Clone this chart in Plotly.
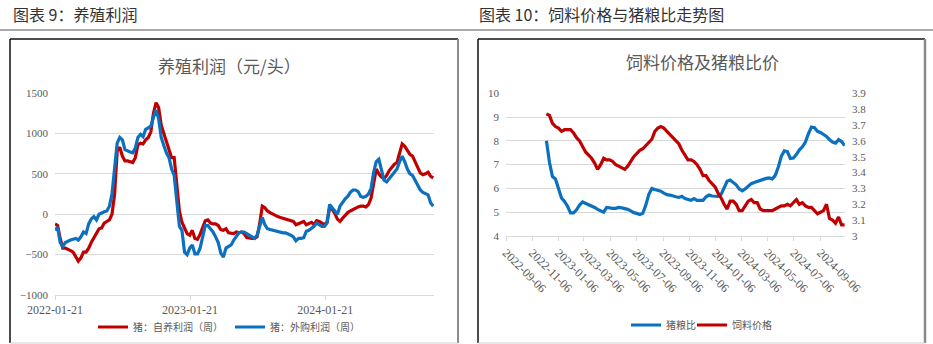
import pandas as pd
import plotly.graph_objects as go

# ---------------- data ----------------
# Left chart: weekly breeding profit (yuan/head)
left_start = "2022-01-21"
left_dates = pd.date_range(left_start, periods=147, freq="7D")
self_bred_profit = [
    -120, -140, -300, -420, -420, -430, -450, -470, -520, -580,
    -540, -470, -470, -420, -350, -290, -230, -180, -170, -110,
    -90, -70, 0, 250, 780, 830, 720, 660, 660, 650,
    640, 700, 860, 880, 870, 920, 950, 1020, 1250, 1380,
    1320, 1100, 1000, 900, 800, 700, 700, 350, 40, -100,
    -170, -240, -260, -200, -300, -310, -250, -170, -80, -70,
    -110, -120, -120, -140, -190, -200, -180, -230, -240, -240,
    -220, -230, -220, -240, -290, -300, -300, -300, -280, -120,
    100, 80, 40, 20, 0, -20, -30, -40, -50, -60,
    -70, -80, -90, -130, -120, -110, -90, -130, -110, -100,
    -130, -80, -90, -110, -130, -100, 80, 60, 10, -60,
    -90, -50, -10, 20, 40, 60, 80, 90, 100, 100,
    90, 120, 200, 380, 560, 500, 460, 440, 480, 540,
    580, 620, 640, 750, 870, 840, 780, 740, 720, 660,
    580, 510, 490, 500, 520, 470, 450,
]
purchased_profit = [
    -200, -160, -350, -400, -350, -330, -320, -310, -300, -320,
    -280, -220, -240, -120, -60, -30, -70, 0, 20, 30,
    40, 100, 250, 600, 880, 950, 920, 800, 780, 770,
    760, 820, 950, 990, 960, 1050, 1070, 1090, 1200, 1290,
    1180, 950, 850, 760, 700, 560, 480, 200, -150, -200,
    -470, -500, -420, -380, -490, -490, -420, -280, -140, -140,
    -180, -220, -280, -350, -480, -530, -420, -400, -380, -320,
    -270, -230, -220, -220, -240, -260, -280, -300, -260, -160,
    -40, -130, -180, -190, -200, -200, -210, -220, -230, -230,
    -240, -260, -280, -330, -300, -300, -290, -210, -200, -180,
    -150, -110, -130, -150, -150, -110, 120, 80, 30, 0,
    100, 150, 190, 220, 270, 300, 300, 280, 220, 210,
    220, 250, 320, 520, 650, 680, 560, 420, 400, 440,
    480, 520, 560, 650, 720, 650, 560, 500, 480, 420,
    350, 300, 270, 260, 240, 140, 100,
]

# Right chart: weekly pig-grain ratio and feed price (yuan/kg)
right_dates = pd.date_range("2022-12-09", periods=100, freq="7D")
pig_grain_ratio = [
    8.0, 7.1, 6.5, 6.4, 6.0, 5.6, 5.45, 5.25, 4.97, 4.97,
    5.1, 5.3, 5.43, 5.38, 5.3, 5.27, 5.2, 5.12, 5.05, 5.0,
    5.2, 5.17, 5.16, 5.16, 5.2, 5.18, 5.16, 5.12, 5.06, 4.98,
    4.95, 4.9, 4.95, 5.3, 5.75, 6.0, 5.95, 5.92, 5.88, 5.8,
    5.74, 5.72, 5.7, 5.65, 5.62, 5.67, 5.57, 5.52, 5.5, 5.57,
    5.5, 5.5, 5.5, 5.65, 5.72, 5.68, 5.68, 5.67, 5.75, 6.0,
    6.3, 6.35, 6.27, 6.15, 5.98, 5.9, 5.98, 6.08, 6.2, 6.25,
    6.3, 6.36, 6.38, 6.42, 6.44, 6.4, 6.55, 6.9, 7.35, 7.58,
    7.55, 7.26, 7.28, 7.42, 7.62, 7.75, 7.95, 8.3, 8.58, 8.55,
    8.4, 8.35, 8.28, 8.18, 8.05, 7.95, 7.9, 8.05, 7.97, 7.8,
]
feed_price = [
    3.77, 3.76, 3.71, 3.69, 3.68, 3.66, 3.67, 3.67, 3.67, 3.65,
    3.62, 3.60, 3.56, 3.53, 3.51, 3.49, 3.46, 3.42, 3.45, 3.49,
    3.48, 3.48, 3.47, 3.45, 3.44, 3.43, 3.42, 3.44, 3.47, 3.50,
    3.52, 3.54, 3.55, 3.57, 3.59, 3.61, 3.66, 3.68, 3.69, 3.68,
    3.66, 3.64, 3.62, 3.60, 3.58, 3.54, 3.51, 3.48, 3.48, 3.47,
    3.45, 3.42, 3.38, 3.38, 3.35, 3.33, 3.31, 3.27, 3.24, 3.20,
    3.17, 3.22, 3.22, 3.20, 3.16, 3.16, 3.19, 3.22, 3.23, 3.21,
    3.21, 3.17, 3.16, 3.16, 3.16, 3.16, 3.17, 3.18, 3.19, 3.19,
    3.20, 3.19, 3.21, 3.23, 3.20, 3.21, 3.19, 3.18, 3.18, 3.16,
    3.14, 3.15, 3.16, 3.20, 3.11, 3.10, 3.08, 3.12, 3.07, 3.07,
]

header_left = "图表 9：养殖利润"
header_right = "图表 10：饲料价格与猪粮比走势图"
title_left = "养殖利润（元/头）"
title_right = "饲料价格及猪粮比价"
name_self = "猪：自养利润（周）"
name_purch = "猪：外购利润（周）"
name_ratio = "猪粮比"
name_feed = "饲料价格"

# ---------------- layout helpers ----------------
W, H = 933, 344
def X(px):
    return px / W
def Y(py):
    return 1 - py / H

RED = "#C00000"
BLUE = "#0A70BF"
GRID = "#D9D9D9"
TICKC = "#595959"
SERIF = "Liberation Serif"
CJK = "Noto Sans CJK SC"

fig = go.Figure()

fig.add_trace(go.Scatter(x=left_dates, y=self_bred_profit, mode="lines", name=name_self,
                         line=dict(color=RED, width=3.2), xaxis="x", yaxis="y", legend="legend"))
fig.add_trace(go.Scatter(x=left_dates, y=purchased_profit, mode="lines", name=name_purch,
                         line=dict(color=BLUE, width=3.2), xaxis="x", yaxis="y", legend="legend2"))
fig.add_trace(go.Scatter(x=right_dates, y=pig_grain_ratio, mode="lines", name=name_ratio,
                         line=dict(color=BLUE, width=3.2), xaxis="x2", yaxis="y2", legend="legend3"))
fig.add_trace(go.Scatter(x=right_dates, y=feed_price, mode="lines", name=name_feed,
                         line=dict(color=RED, width=3.2), xaxis="x2", yaxis="y3", legend="legend4"))

tickfont = dict(family=SERIF, size=11, color=TICKC)
datefont = dict(family=SERIF, size=12, color=TICKC)

fig.update_layout(
    template="none",
    width=W, height=H, autosize=False,
    margin=dict(l=0, r=0, t=0, b=0, pad=0, autoexpand=False),
    paper_bgcolor="white", plot_bgcolor="white",
    xaxis=dict(domain=[X(55), X(434)], type="date", automargin=False,
               range=["2022-01-21", "2024-11-10"],
               tick0="2022-01-21", dtick="M12", tickformat="%Y-%m-%d",
               showgrid=False, zeroline=False, showline=True, linecolor=GRID, linewidth=1,
               ticks="outside", ticklen=4, tickcolor=GRID, tickfont=datefont,
               anchor="y"),
    yaxis=dict(domain=[Y(295), Y(93)], range=[-1000, 1500.5], dtick=500, automargin=False,
               showgrid=True, gridcolor=GRID, gridwidth=1, zeroline=False,
               showline=False, ticks="", tickfont=tickfont, ticklabelstandoff=6,
               anchor="x"),
    xaxis2=dict(domain=[X(506), X(845)], type="date", automargin=False,
                range=["2022-09-06", "2024-11-02"],
                tick0="2022-09-06", dtick="M2", tickformat="%Y-%m-%d", tickangle=45,
                showgrid=False, zeroline=False, showline=True, linecolor=GRID, linewidth=1,
                ticks="outside", ticklen=4, tickcolor=GRID, tickfont=datefont,
                anchor="y2"),
    yaxis2=dict(domain=[Y(236), Y(93)], range=[4, 10.01], dtick=1, automargin=False,
                showgrid=True, gridcolor=GRID, gridwidth=1, zeroline=False,
                showline=False, ticks="", tickfont=tickfont, ticklabelstandoff=6,
                anchor="x2"),
    yaxis3=dict(range=[3, 3.9015], dtick=0.1, overlaying="y2", side="right",
                anchor="x2", showgrid=False, zeroline=False, showline=False, automargin=False,
                ticks="", tickfont=tickfont, ticklabelstandoff=6),
    showlegend=True,
)

legend_common = dict(orientation="h", bgcolor="rgba(0,0,0,0)", borderwidth=0,
                     font=dict(family=CJK, size=10, color=TICKC),
                     xanchor="left", yanchor="middle", itemwidth=30, tracegroupgap=0)
fig.update_layout(
    legend=dict(x=X(93), y=Y(327), **legend_common),
    legend2=dict(x=X(230), y=Y(327), **legend_common),
    legend3=dict(x=X(626), y=Y(325), **legend_common),
    legend4=dict(x=X(692), y=Y(325), **legend_common),
)

annotations = [
    dict(text=header_left, x=X(11), y=Y(14), xanchor="left", yanchor="middle",
         font=dict(family=CJK, size=16, color="#333333")),
    dict(text=header_right, x=X(477), y=Y(14), xanchor="left", yanchor="middle",
         font=dict(family=CJK, size=16, color="#333333")),
    dict(text=title_left, x=X(229), y=Y(65), xanchor="center", yanchor="middle",
         font=dict(family=CJK, size=17, color="#595959")),
    dict(text=title_right, x=X(702), y=Y(62), xanchor="center", yanchor="middle",
         font=dict(family=CJK, size=17, color="#595959")),
]
for a in annotations:
    a.update(xref="paper", yref="paper", showarrow=False)
fig.update_layout(annotations=annotations)

def line(x0, y0, x1, y1, color, width):
    return dict(type="line", xref="paper", yref="paper",
                x0=X(x0), y0=Y(y0), x1=X(x1), y1=Y(y1),
                line=dict(color=color, width=width), layer="above")

shapes = [
    line(0, 30, 933, 30, "#555555", 1),
    # left panel frame
    line(10, 39, 458, 39, "#111111", 1.5),
    line(10, 39, 10, 343, "#111111", 1.5),
    line(458, 39, 458, 343, "#8A8A8A", 2),
    line(10, 343, 458, 343, "#D0D0D0", 1),
    # right panel frame
    line(478, 39, 925, 39, "#111111", 1.5),
    line(478, 39, 478, 343, "#111111", 1.5),
    line(925, 39, 925, 343, "#8A8A8A", 2.5),
    line(478, 343, 925, 343, "#D0D0D0", 1),
]
fig.update_layout(shapes=shapes)

fig.write_html("out.html")
